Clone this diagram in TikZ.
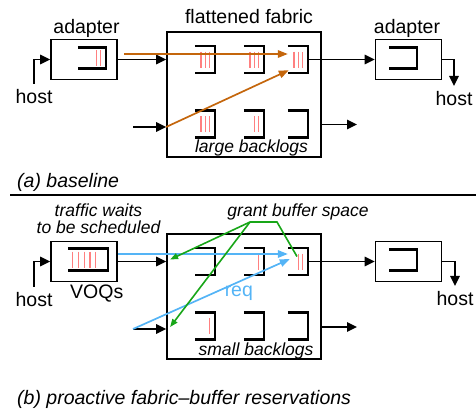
\documentclass[tikz,border=0pt]{standalone}
\usepackage{fontspec}
\setmainfont{Liberation Sans}
\usepackage{tikz}
\usetikzlibrary{arrows.meta, calc}
\definecolor{flowbrown}{RGB}{196,102,12}
\definecolor{reqblue}{RGB}{84,180,246}
\definecolor{grantgreen}{RGB}{24,166,24}
\definecolor{backlog}{RGB}{255,128,128}

\begin{document}
\begin{tikzpicture}[x=1pt, y=-1pt,
    box/.style={draw, line width=1.8pt, inner sep=0pt},
    adapter/.style={box, minimum width=66pt, minimum height=40pt},
    fabric/.style={box, minimum width=154pt, minimum height=125pt},
    fifo/.style={inner sep=0pt, minimum width=20pt, minimum height=27pt},
    nicq/.style={fifo, minimum width=28pt, minimum height=21pt},
    bracket/.style={line width=2.5pt},
    bar/.style={draw=backlog, line width=1.2pt},
    lbl/.style={font=\fontsize{19.5}{22}\selectfont, inner sep=0pt, anchor=base},
    note/.style={font=\fontsize{17.5}{17}\selectfont\itshape, inner sep=0pt, anchor=base},
    caption/.style={font=\fontsize{19.5}{22}\selectfont\itshape, inner sep=0pt, anchor=base west},
    hostlbl/.style={lbl, outer sep=5pt},
    edge/.style={-{Triangle[length=10pt, width=9.5pt]}, line width=1.6pt},
    flow/.style={-{Triangle[length=10pt, width=7.5pt]}, line width=1.7pt},
    grant/.style={draw=grantgreen, line width=1.6pt},
    grantarrow/.style={grant, -{Triangle[length=8pt, width=6pt]}},
]
\useasboundingbox (0,0) rectangle (476,408);

% (a) baseline
\node[lbl] (adLt) at (86.5,33) {adapter};
\node[lbl] (fabLt) at (249,23) {flattened fabric};
\node[lbl] (adRt) at (407,33) {adapter};

\node[adapter] (adLa) at (84,59.5) {};
\node[fabric] (fabA) at (244,94.5) {};
\node[adapter] (adRa) at (408.5,59.5) {};

\node[nicq] (qLa) at (92,58) {};
\node[nicq] (qRa) at (403,58) {};
\foreach \n/\x/\y in {1/205/59.5, 2/254/59.5, 3/298/59.5, 4/205/124, 5/254/124, 6/298/124}
    \node[fifo] (qA\n) at (\x,\y) {};

\node[hostlbl] (hostLa) at (34,103) {host};
\node[hostlbl] (hostRa) at (454,105) {host};
\node[note] (backA) at (251.5,152) {large backlogs};
\node[caption] (capA) at (17,187) {(a) baseline};

% (b) proactive reservations
\node[note, align=center] (waitB) at (98.5,233) {traffic waits\\to be scheduled};
\node[note] (grantB) at (298,216) {grant buffer space};

\node[adapter] (adLb) at (84,261.5) {};
\node[fabric] (fabB) at (244,296.5) {};
\node[adapter] (adRb) at (408.5,261.5) {};

\node[fifo, minimum width=40pt, minimum height=22pt] (qLb) at (88,259.5) {};
\node[nicq] (qRb) at (403,260) {};
\foreach \n/\x/\y in {1/205/261.5, 2/254/261.5, 3/298/261.5, 4/205/326, 5/254/326, 6/298/326}
    \node[fifo] (qB\n) at (\x,\y) {};

\node[lbl] (voqB) at (96.7,298) {VOQs};
\node[hostlbl] (hostLb) at (34,306) {host};
\node[hostlbl] (hostRb) at (455,305) {host};
\node[note] (backB) at (256,355) {small backlogs};
\node[caption] (capB) at (17,404) {(b) proactive fabric–buffer reservations};

% queues and their backlogs
\foreach \q in {qLa, qRa, qA1, qA2, qA3, qA4, qA5, qA6, qLb, qRb, qB1, qB2, qB3, qB4, qB5, qB6}
    \draw[bracket] (\q.north west) -- (\q.north east) -- (\q.south east) -- (\q.south west);
\foreach \q/\n in {qLa/2, qA1/3, qA2/3, qA3/3, qA4/3, qA5/2, qB2/1, qB3/2, qB4/1}
    \foreach \k in {1,...,\n}
        \draw[bar] ([xshift={-5.5pt-4.4pt*(\k-1)}]\q.east) ++(0,-8) -- ++(0,16);
\foreach \k in {1,...,5}
    \draw[bar] ([xshift={-12.5pt-5.8pt*(\k-1)}]qLb.east) ++(0,-8) -- ++(0,16);

\coordinate (inA) at (133,127);
\coordinate (outA) at (357,124.5);
\coordinate (inB) at (133,329);
\coordinate (outB) at (357,327);

\draw[edge] (hostLa) |- (adLa);
\draw[edge] (adLa) -- (adLa -| fabA.west);
\draw[edge] (inA) -- (inA -| fabA.west);
\draw[edge] (qA3) -- (adRa);
\draw[edge] (fabA.east |- outA) -- (outA);
\draw[edge] (adRa) -| (hostRa);

\draw[edge] (hostLb) |- (adLb);
\draw[edge] (adLb) -- (adLb -| fabB.west);
\draw[edge] (inB) -- (inB -| fabB.west);
\draw[edge] (qB3) -- (adRb);
\draw[edge] (fabB.east |- outB) -- (outB);
\draw[edge] (adRb) -| (hostRb);

\draw[line width=2.5pt] (10,195) -- (476,195);

% packets sprayed straight into the fabric
\coordinate (srcA) at (124,54);
\draw[flow, flowbrown] (srcA) -- (qA3.west |- srcA);
\draw[flow, flowbrown] (inA -| fabA.west) -- ([shift={(1pt,3pt)}]qA3.south west);

% requests and grants
\draw[flow, reqblue] ([yshift=7.5pt]adLb.east) -- ([yshift=7.5pt]qB3.west);
\draw[flow, reqblue] (inB) -- node[pos=0.675, below, font=\fontsize{19.5}{22}\selectfont, text=reqblue] (reqB) {req} ([shift={(2pt,2.5pt)}]qB3.west);

\coordinate (gApex) at (250,222);
\coordinate (gBend) at (277,222);
\coordinate (gTipA) at ($(fabB.west |- adLb)+(4pt,2pt)$);
\coordinate (gTipB) at ($(fabB.west |- inB)+(4pt,2pt)$);
\draw[grant] (gApex) -- (gBend) -- ($(qB3.center)+(-1pt,5pt)$);
\draw[grantarrow] (gApex) -- (gTipA);
\draw[grantarrow] (gApex) -- (gTipB);

\end{tikzpicture}
\end{document}
